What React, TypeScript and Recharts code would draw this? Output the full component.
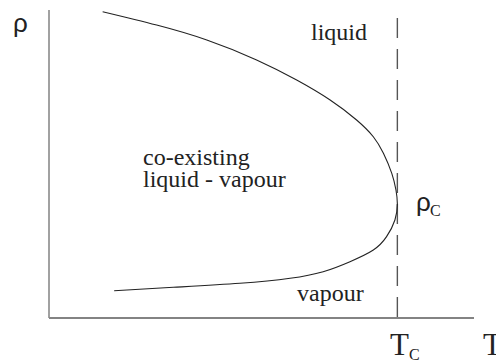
import React from 'react';
import { LineChart, Line, XAxis, YAxis, ReferenceLine } from 'recharts';

// coexistence curve, traced from the liquid branch round the critical point to the vapour branch
const temperature = [
  0.154, 0.309, 0.453, 0.596, 0.711, 0.807, 0.883, 0.931, 0.96, 0.984, 0.996, 1.0,
  0.993, 0.969, 0.931, 0.864, 0.787, 0.692, 0.548, 0.357, 0.187
];
const density = [
  2.685, 2.568, 2.437, 2.262, 2.086, 1.911, 1.736, 1.589, 1.444, 1.268, 1.122, 1.0,
  0.859, 0.713, 0.596, 0.494, 0.406, 0.348, 0.304, 0.269, 0.239
];

const T_CRIT = 1;
const RHO_TOP = 2.63;
const T_DOMAIN = [0, 1.22];
const RHO_DOMAIN = [0, 2.7];

const serif = 'Liberation Serif, Times New Roman, serif';
const sans = 'Liberation Sans, Arial, sans-serif';
const ink = '#222';

const curve = temperature.map((t, i) => ({ t, rho: density[i] }));

export default function App () {
  return (
    <LineChart
      width={496}
      height={355}
      data={curve}
      margin={{ top: 2, right: 30, bottom: 0, left: 0 }}
    >
      <XAxis
        type="number"
        dataKey="t"
        domain={T_DOMAIN}
        tick={false}
        tickLine={false}
        height={45}
        axisLine={{ stroke: '#5a5a5a', strokeWidth: 1.6 }}
      />
      <YAxis
        type="number"
        dataKey="rho"
        domain={RHO_DOMAIN}
        tick={false}
        tickLine={false}
        width={41}
        axisLine={{ stroke: '#8a8a8a', strokeWidth: 1.6 }}
      />
      <ReferenceLine
        segment={[{ x: T_CRIT, y: RHO_TOP }, { x: T_CRIT, y: 0 }]}
        stroke="#555"
        strokeWidth={1.4}
        strokeDasharray="20 11"
      />
      <Line
        dataKey="rho"
        type="natural"
        stroke={ink}
        strokeWidth={1.1}
        dot={false}
        activeDot={false}
        isAnimationActive={false}
      />
      <text x={5} y={24} style={{ fontFamily: sans }} fontSize={26} fill={ink}>ρ</text>
      <text x={303} y={32} style={{ fontFamily: serif }} fontSize={24} fill={ink}>liquid</text>
      <text x={135} y={157} style={{ fontFamily: serif }} fontSize={24} fill={ink}>co-existing</text>
      <text x={135} y={179} style={{ fontFamily: serif }} fontSize={24} fill={ink}>liquid - vapour</text>
      <text x={289} y={293} style={{ fontFamily: serif }} fontSize={24} fill={ink}>vapour</text>
      <text x={408} y={203} style={{ fontFamily: sans }} fontSize={26} fill={ink}>ρ</text>
      <text x={422} y={208} style={{ fontFamily: serif }} fontSize={16} fill={ink}>C</text>
      <text x={382} y={347} style={{ fontFamily: serif }} fontSize={31} fill={ink}>T</text>
      <text x={401} y={352} style={{ fontFamily: serif }} fontSize={16} fill={ink}>C</text>
      <text x={475} y={347} style={{ fontFamily: serif }} fontSize={31} fill={ink}>T</text>
    </LineChart>
  );
}
